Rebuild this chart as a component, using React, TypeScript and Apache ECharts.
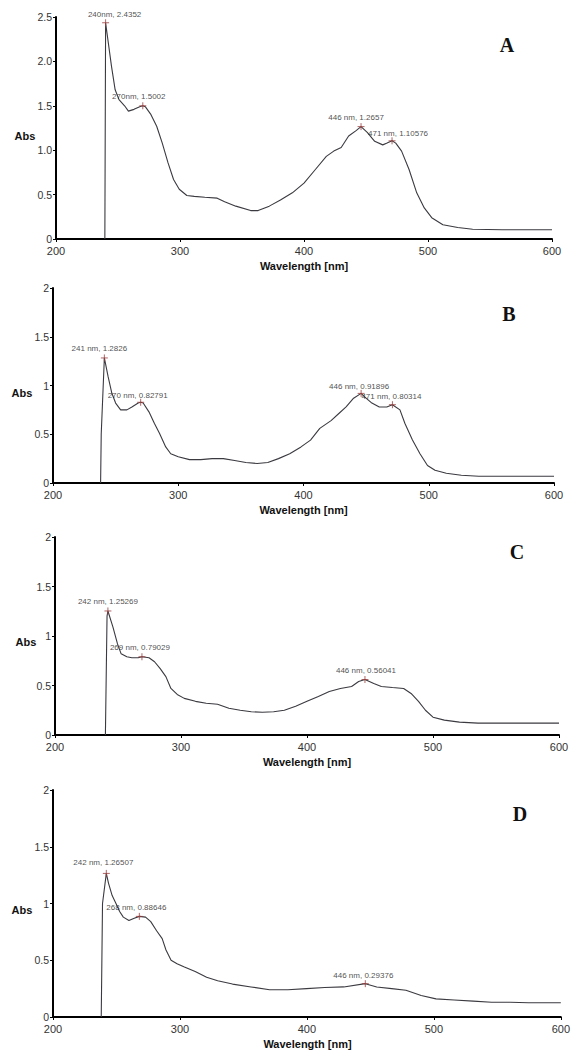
import React, { useEffect, useRef } from "react";
import * as echarts from "echarts";

// ---------- data ----------
const xTickValues = [200, 300, 400, 500, 600];

const wlA = [239.4, 240, 244.7, 247.7, 250.8, 255.3, 258.4, 262.9, 267.5, 270, 272, 276.6, 281.2, 285.7, 290.3, 294.8, 299.4, 305.5, 311.5, 320, 330, 336, 345, 357, 363, 372, 381, 390.6, 400, 409, 418, 424, 430, 436, 442, 446, 451, 457, 463.5, 467, 471, 474, 478.7, 484.8, 490.9, 497, 503, 512, 524, 536, 560, 600];
const absA = [0, 2.4352, 1.95, 1.68, 1.57, 1.5, 1.44, 1.46, 1.49, 1.5002, 1.49, 1.4, 1.27, 1.08, 0.86, 0.67, 0.56, 0.49, 0.48, 0.47, 0.46, 0.42, 0.37, 0.32, 0.32, 0.37, 0.44, 0.52, 0.63, 0.78, 0.93, 0.99, 1.03, 1.16, 1.22, 1.2657, 1.2, 1.1, 1.06, 1.08, 1.10576, 1.08, 0.99, 0.78, 0.52, 0.35, 0.24, 0.16, 0.13, 0.11, 0.105, 0.105];
const peakWlA = [240, 270, 446, 471];
const peakAbsA = [2.4352, 1.5002, 1.2657, 1.10576];
const peakTextA = ["240nm, 2.4352", "270nm, 1.5002", "446 nm, 1.2657", "471 nm, 1.10576"];

const wlB = [238, 238.5, 241, 244, 247, 250, 254, 259, 263, 268, 270, 272, 276.6, 281, 285, 290, 294, 300, 309, 318, 327, 336, 345, 354, 363, 371.5, 380, 389, 398, 405.6, 413, 422, 428, 434, 440, 446, 449, 454.6, 460.5, 466.5, 471, 477, 481, 487, 493, 499, 505, 514, 526, 540, 600];
const absB = [0, 0.5, 1.2826, 1.09, 0.92, 0.82, 0.75, 0.75, 0.78, 0.82, 0.82791, 0.82, 0.73, 0.61, 0.51, 0.37, 0.3, 0.27, 0.24, 0.24, 0.25, 0.25, 0.23, 0.21, 0.2, 0.21, 0.25, 0.3, 0.37, 0.44, 0.56, 0.64, 0.71, 0.78, 0.87, 0.91896, 0.88, 0.82, 0.78, 0.78, 0.80314, 0.75, 0.61, 0.44, 0.3, 0.18, 0.13, 0.1, 0.08, 0.07, 0.07];
const peakWlB = [241, 270, 446, 471];
const peakAbsB = [1.2826, 0.82791, 0.91896, 0.80314];
const peakTextB = ["241 nm, 1.2826", "270 nm, 0.82791", "446 nm, 0.91896", "471 nm, 0.80314"];

const wlC = [240, 241.3, 242, 246, 249.6, 252.5, 257, 261, 266, 269, 274.6, 279, 283.5, 288, 292, 297, 302.6, 311.5, 320, 329, 338, 347, 355.8, 364.6, 373.5, 382, 391, 400, 409, 417.7, 426.5, 435.4, 441, 446, 453, 459, 467.8, 476.7, 482.6, 488.5, 494, 500, 509, 521, 535.7, 600];
const absC = [0, 1.2, 1.25269, 1.09, 0.92, 0.82, 0.79, 0.78, 0.78, 0.79029, 0.78, 0.74, 0.67, 0.59, 0.47, 0.41, 0.37, 0.34, 0.32, 0.31, 0.27, 0.25, 0.235, 0.23, 0.235, 0.25, 0.29, 0.34, 0.39, 0.44, 0.47, 0.49, 0.54, 0.56041, 0.52, 0.49, 0.48, 0.47, 0.42, 0.34, 0.25, 0.18, 0.15, 0.13, 0.12, 0.12];
const peakWlC = [242, 269, 446];
const peakAbsC = [1.25269, 0.79029, 0.56041];
const peakTextC = ["242 nm, 1.25269", "269 nm, 0.79029", "446 nm, 0.56041"];

const wlD = [238, 239, 242, 243.7, 246.6, 249.6, 252.5, 255.4, 259.8, 264, 268, 272.9, 277, 281.6, 286, 289, 293, 297.7, 303.5, 312, 321, 329.7, 341.4, 356, 370.6, 385, 399.7, 414, 429, 446, 455, 466.8, 478, 490, 501.7, 516, 531, 545.5, 560, 574.6, 589, 600];
const absD = [0, 1.0, 1.26507, 1.18, 1.07, 1.0, 0.93, 0.88, 0.85, 0.87, 0.88646, 0.88, 0.84, 0.76, 0.69, 0.59, 0.5, 0.47, 0.44, 0.4, 0.35, 0.32, 0.29, 0.265, 0.24, 0.24, 0.25, 0.26, 0.265, 0.29376, 0.265, 0.25, 0.235, 0.19, 0.16, 0.15, 0.14, 0.13, 0.13, 0.125, 0.125, 0.125];
const peakWlD = [242, 268, 446];
const peakAbsD = [1.26507, 0.88646, 0.29376];
const peakTextD = ["242 nm, 1.26507", "268 nm, 0.88646", "446 nm, 0.29376"];

const panelLetters = ["A", "B", "C", "D"];
const yMaxes = [2.5, 2, 2, 2];

// ---------- layout (positions / styles) ----------
const grids = [
  { left: 56, top: 17, width: 496, height: 222 },
  { left: 53, top: 288, width: 501, height: 195 },
  { left: 55, top: 537, width: 504, height: 198 },
  { left: 53, top: 790, width: 509, height: 227 },
];
const labelOffsets = [
  [[9, -8], [-4, -9], [-5, -9], [6, -7]],
  [[-5, -9], [-3, -7], [-2, -7], [-1, -8]],
  [[0, -9], [-2, -9], [1, -9]],
  [[-3, -11], [-3, -9], [-2, -8]],
];
const letterPos = [
  [507, 45],
  [509, 314],
  [517, 552],
  [520, 814],
];
const absPos = [
  [25, 136],
  [22, 393],
  [26, 642],
  [22, 910],
];

const panels = [
  { wl: wlA, abs: absA, pw: peakWlA, pa: peakAbsA, pt: peakTextA },
  { wl: wlB, abs: absB, pw: peakWlB, pa: peakAbsB, pt: peakTextB },
  { wl: wlC, abs: absC, pw: peakWlC, pa: peakAbsC, pt: peakTextC },
  { wl: wlD, abs: absD, pw: peakWlD, pa: peakAbsD, pt: peakTextD },
];

const SANS = "Arial, 'Liberation Sans', Helvetica, sans-serif";
const SERIF = "'Times New Roman', 'Liberation Serif', serif";

export default function App() {
  const ref = useRef<HTMLDivElement>(null);

  useEffect(() => {
    if (!ref.current) return;
    const chart = echarts.init(ref.current, undefined, { renderer: "svg" });

    const xAxis: any[] = [];
    const yAxis: any[] = [];
    const series: any[] = [];
    const graphic: any[] = [];

    panels.forEach((p, i) => {
      const g = grids[i];
      const isA = i === 0;
      xAxis.push({
        type: "value",
        gridIndex: i,
        min: 200,
        max: 600,
        interval: 100,
        axisLine: { show: true, onZero: false, lineStyle: { color: "#000", width: 2 } },
        axisTick: { show: true, length: 3, lineStyle: { color: "#000", width: 1 } },
        splitLine: { show: false },
        axisLabel: {
          fontSize: 11,
          color: "#333",
          fontFamily: SANS,
          margin: 6,
          formatter: (v: number) => (xTickValues.includes(v) ? String(v) : ""),
        },
      });
      yAxis.push({
        type: "value",
        gridIndex: i,
        min: 0,
        max: yMaxes[i],
        interval: 0.5,
        axisLine: { show: true, lineStyle: { color: "#000", width: 2 } },
        axisTick: { show: true, length: 3, lineStyle: { color: "#000", width: 1 } },
        splitLine: { show: false },
        axisLabel: {
          fontSize: 10.5,
          color: "#333",
          fontFamily: SANS,
          margin: 4,
          formatter: (v: number) => (v === 0 ? "0" : isA ? v.toFixed(1) : String(v)),
        },
      });
      series.push({
        type: "line",
        xAxisIndex: i,
        yAxisIndex: i,
        data: p.wl.map((w, j) => [w, p.abs[j]]),
        showSymbol: false,
        symbol: "none",
        lineStyle: { color: "#3a3a40", width: 1.1 },
        silent: true,
        z: 3,
      });
      series.push({
        type: "scatter",
        xAxisIndex: i,
        yAxisIndex: i,
        symbol: "path://M5,0L5,10M0,5L10,5",
        symbolSize: 7,
        itemStyle: { color: "rgba(0,0,0,0)", borderColor: "#9a4040", borderWidth: 1 },
        label: {
          show: true,
          position: "inside",
          formatter: (d: any) => d.name,
          fontSize: 8,
          color: "#222",
          fontFamily: SANS,
        },
        data: p.pw.map((w, j) => ({
          name: p.pt[j],
          value: [w, p.pa[j]],
          label: { offset: labelOffsets[i][j] },
        })),
        silent: true,
        z: 4,
      });
      graphic.push({
        type: "text",
        x: g.left + g.width / 2,
        y: g.top + g.height + 27,
        style: {
          text: "Wavelength [nm]",
          fill: "#111",
          font: `bold 11px ${SANS}`,
          align: "center",
          verticalAlign: "middle",
        },
      });
      graphic.push({
        type: "text",
        x: absPos[i][0],
        y: absPos[i][1],
        style: {
          text: "Abs",
          fill: "#111",
          font: `bold 11px ${SANS}`,
          align: "center",
          verticalAlign: "middle",
        },
      });
      graphic.push({
        type: "text",
        x: letterPos[i][0],
        y: letterPos[i][1],
        style: {
          text: panelLetters[i],
          fill: "#111",
          font: `bold 20px ${SERIF}`,
          align: "center",
          verticalAlign: "middle",
        },
      });
    });

    chart.setOption({
      animation: false,
      backgroundColor: "#fff",
      grid: grids.map((g) => ({ ...g, containLabel: false })),
      xAxis,
      yAxis,
      series,
      graphic,
    });

    return () => chart.dispose();
  }, []);

  return (
    <div
      ref={ref}
      style={{ position: "absolute", left: 0, top: 0, width: 573, height: 1057, background: "#fff" }}
    />
  );
}
